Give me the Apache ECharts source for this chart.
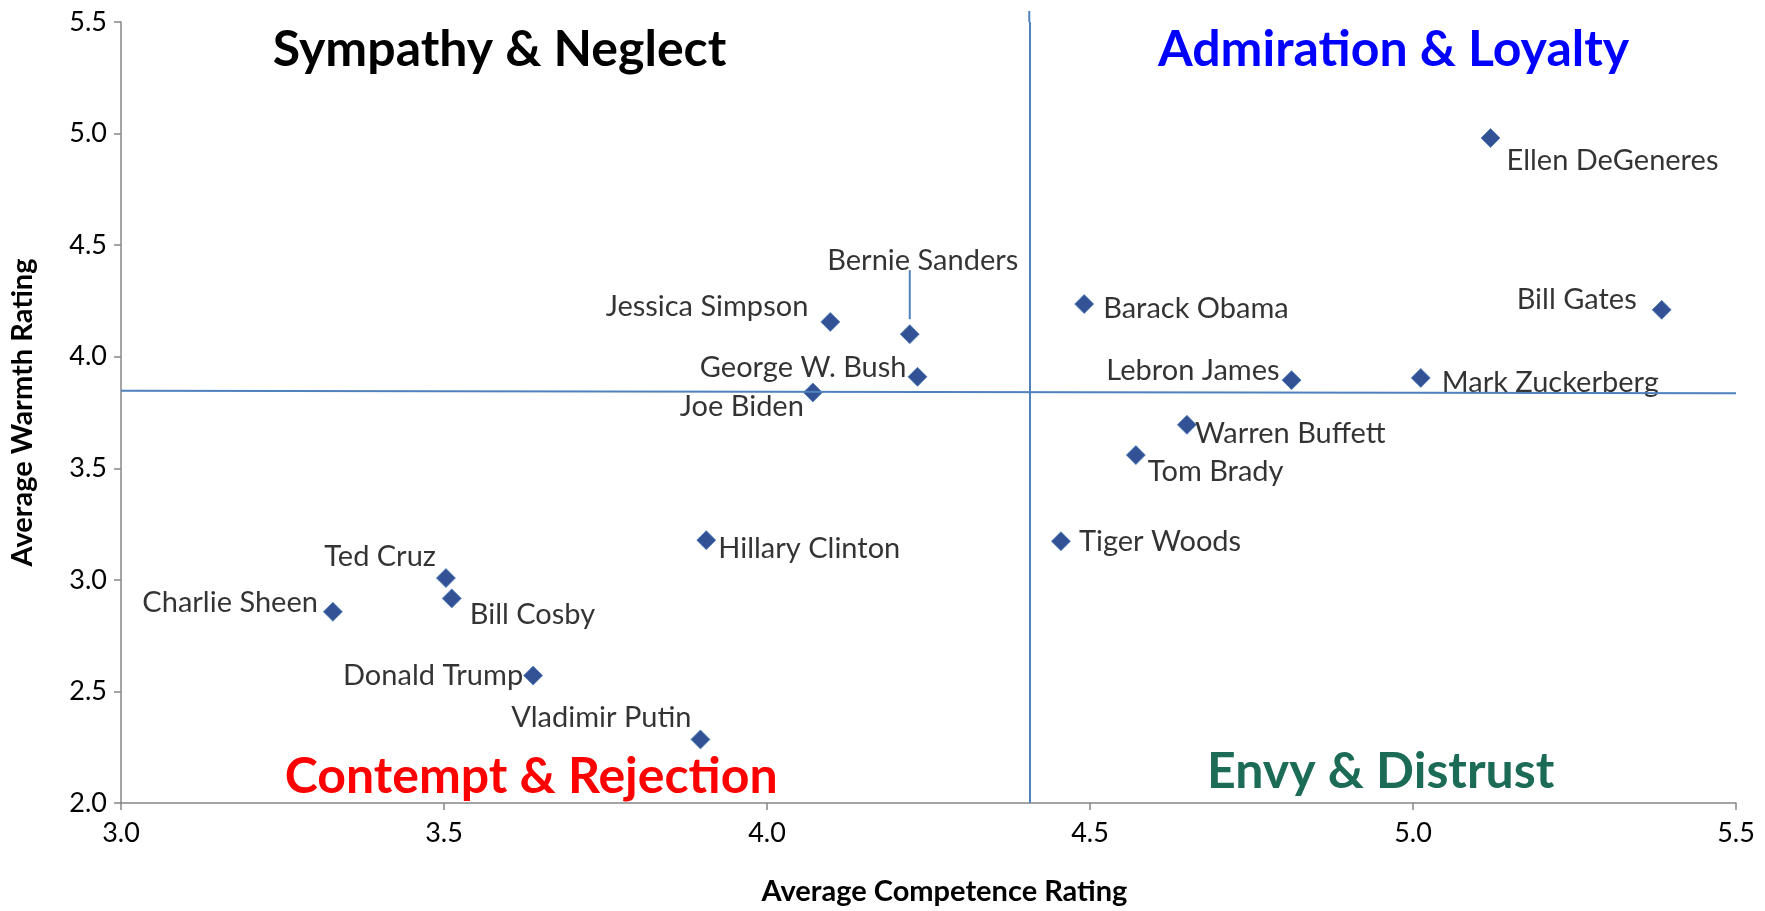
<!DOCTYPE html>
<html>
<head>
<meta charset="utf-8">
<script src="https://cdn.jsdelivr.net/npm/echarts@6/dist/echarts.min.js"></script>
<style>
html, body { margin: 0; padding: 0; background: #fff; }
#main { width: 1765px; height: 911px; }
</style>
</head>
<body>
<div id="main"></div>
<script>
// people and their ratings
var names = ['Ellen DeGeneres', 'Bill Gates', 'Mark Zuckerberg', 'Lebron James', 'Barack Obama',
	'Warren Buffett', 'Tom Brady', 'Tiger Woods', 'Jessica Simpson', 'Bernie Sanders',
	'George W. Bush', 'Joe Biden', 'Hillary Clinton', 'Ted Cruz', 'Bill Cosby',
	'Charlie Sheen', 'Donald Trump', 'Vladimir Putin'];
var competence = [5.12, 5.385, 5.012, 4.812, 4.491, 4.65, 4.571, 4.455, 4.098, 4.221,
	4.233, 4.071, 3.906, 3.503, 3.512, 3.328, 3.638, 3.897];
var warmth = [4.98, 4.21, 3.905, 3.895, 4.236, 3.695, 3.559, 3.173, 4.156, 4.101,
	3.91, 3.84, 3.178, 3.008, 2.917, 2.857, 2.571, 2.285];

var avgCompetence = 4.406;
var avgWarmth = [3.848, 3.836];   // left end, right end

var xTicks = [3.0, 3.5, 4.0, 4.5, 5.0, 5.5];
var yTicks = [2.0, 2.5, 3.0, 3.5, 4.0, 4.5, 5.0, 5.5];

// label side / nudge for each name (same order as names)
var labelSide = ['right', 'left', 'right', 'left', 'right', 'right', 'right', 'right', 'left', 'top',
	'left', 'left', 'right', 'left', 'right', 'left', 'left', 'left'];
var labelNudge = [[6, 23], [-15, -10], [11, 5], [-2, -10], [9, 5], [-2, 9], [2, 17], [8, 0], [-12, -15], [13, -49],
	[-1, -9], [1, 14], [2, 9], [0, -21], [8, 16], [-5, -9], [0, 0], [1, -22]];

var font = 'Lato, "Open Sans", sans-serif';

var points = names.map(function (n, i) {
	return {
		name: n,
		value: [competence[i], warmth[i]],
		label: { position: labelSide[i], offset: labelNudge[i], distance: 0 }
	};
});

var chartDom = document.getElementById('main');
var myChart = echarts.init(chartDom);
var option;
option = {
	animation: false,
	grid: { left: 120, right: 29, top: 22, bottom: 101 },
	xAxis: {
		type: 'value',
		min: xTicks[0], max: xTicks[xTicks.length - 1], interval: 0.5,
		name: 'Average Competence Rating',
		nameLocation: 'middle', nameGap: 74,
		nameTextStyle: { fontFamily: font, fontWeight: 'bold', fontSize: 29, color: '#000', padding: [0, 0, 0, 32] },
		axisLine: { lineStyle: { color: '#868686', width: 1.5 } },
		axisTick: { length: 7, lineStyle: { color: '#868686', width: 1.5 } },
		splitLine: { show: false },
		axisLabel: { fontFamily: font, fontSize: 27, color: '#000', margin: 17,
			formatter: function (v) { return v.toFixed(1); } }
	},
	yAxis: {
		type: 'value',
		min: yTicks[0], max: yTicks[yTicks.length - 1], interval: 0.5,
		name: 'Average Warmth Rating',
		nameLocation: 'middle', nameGap: 84,
		nameTextStyle: { fontFamily: font, fontWeight: 'bold', fontSize: 29, color: '#000' },
		axisLine: { show: true, lineStyle: { color: '#868686', width: 1.5 } },
		axisTick: { show: true, length: 7, lineStyle: { color: '#868686', width: 1.5 } },
		splitLine: { show: false },
		axisLabel: { fontFamily: font, fontSize: 27, color: '#000', margin: 14,
			formatter: function (v) { return v.toFixed(1); } }
	},
	series: [{
		type: 'scatter',
		symbol: 'diamond',
		symbolSize: 19,
		itemStyle: { color: '#00277a', borderColor: '#4f81bd', borderWidth: 1 },
		label: {
			show: true,
			formatter: '{b}',
			fontFamily: font,
			fontSize: 29,
			color: '#000'
		},
		data: points,
		markLine: {
			silent: true,
			symbol: 'none',
			label: { show: false },
			lineStyle: { color: '#4f81bd', width: 2, type: 'solid' },
			data: [
				[{ coord: [avgCompetence, yTicks[0]] }, { coord: [avgCompetence, yTicks[yTicks.length - 1]] }],
				[{ coord: [xTicks[0], avgWarmth[0]] }, { coord: [xTicks[xTicks.length - 1], avgWarmth[1]] }]
			]
		}
	}]
};
option && myChart.setOption(option);

// quadrant headings, the leader line for Bernie Sanders, top stub of the vertical line
function quad(x, y, text, color) {
	var p = myChart.convertToPixel({ gridIndex: 0 }, [x, y]);
	return {
		type: 'text', x: p[0], y: p[1],
		style: { text: text, fill: color, font: 'bold 50px ' + font, align: 'center', verticalAlign: 'middle' }
	};
}
var bi = names.indexOf('Bernie Sanders');
var bp = myChart.convertToPixel({ gridIndex: 0 }, [competence[bi], warmth[bi]]);
var vTop = myChart.convertToPixel({ gridIndex: 0 }, [avgCompetence, yTicks[yTicks.length - 1]]);
myChart.setOption({
	graphic: [
		quad(3.586, 5.375, 'Sympathy & Neglect', '#000'),
		quad(4.97, 5.375, 'Admiration & Loyalty', '#0000ff'),
		quad(3.635, 2.115, 'Contempt & Rejection', '#ff0000'),
		quad(4.95, 2.14, 'Envy & Distrust', '#1b6b57'),
		{
			type: 'line',
			shape: { x1: bp[0], y1: bp[1] - 64, x2: bp[0], y2: bp[1] - 15 },
			style: { stroke: '#4f81bd', lineWidth: 2 }
		},
		{
			type: 'line',
			shape: { x1: vTop[0], y1: vTop[1] - 11, x2: vTop[0], y2: vTop[1] },
			style: { stroke: '#4f81bd', lineWidth: 2 }
		}
	]
});
</script>
</body>
</html>
